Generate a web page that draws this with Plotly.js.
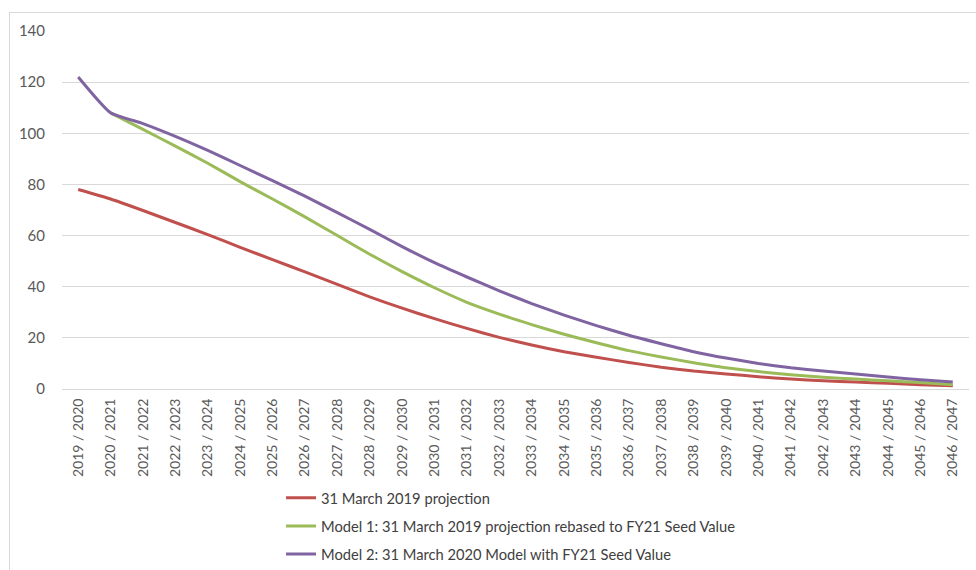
<!DOCTYPE html>
<html>
<head>
<meta charset="utf-8">
<script src="https://cdn.plot.ly/plotly-3.0.1.min.js"></script>
<style>
html,body{margin:0;padding:0;background:#fff;}
#frame{position:absolute;left:9px;top:12px;width:1000px;height:600px;border:1px solid #d9d9d9;}
#chart{position:absolute;left:0;top:0;width:976px;height:570px;}
</style>
</head>
<body>
<div id="frame"></div>
<div id="chart"></div>
<script>
const years = ["2019 / 2020","2020 / 2021","2021 / 2022","2022 / 2023","2023 / 2024","2024 / 2025","2025 / 2026","2026 / 2027","2027 / 2028","2028 / 2029","2029 / 2030","2030 / 2031","2031 / 2032","2032 / 2033","2033 / 2034","2034 / 2035","2035 / 2036","2036 / 2037","2037 / 2038","2038 / 2039","2039 / 2040","2040 / 2041","2041 / 2042","2042 / 2043","2043 / 2044","2044 / 2045","2045 / 2046","2046 / 2047"];
const projection2019 = [78,74.3,69.8,65.1,60.4,55.4,50.6,45.8,40.9,36.0,31.6,27.5,23.7,20.2,17.2,14.6,12.4,10.4,8.5,7.0,5.9,4.8,3.9,3.2,2.7,2.2,1.7,1.3];
const model1 = [null,108,101.5,95,88.3,81.1,74.3,67.3,60.0,52.7,45.9,39.6,33.9,29.3,25.2,21.4,18.1,15.0,12.5,10.3,8.3,6.8,5.6,4.6,3.9,3.2,2.5,1.7];
const model2 = [122,108,103.8,98.8,93.3,87.4,81.5,75.4,69,62.4,55.7,49.4,43.8,38.4,33.4,28.9,24.8,21.0,17.7,14.6,12.1,10.0,8.3,7.0,5.9,4.7,3.6,2.7];
const seriesNames = ["31 March 2019 projection","Model 1: 31 March 2019 projection rebased to FY21 Seed Value","Model 2: 31 March 2020 Model with FY21 Seed Value"];
const colors = ["#C0504D","#9BBB59","#8064A2"];
const values = [projection2019, model1, model2];

const traces = values.map((v,i)=>({
  x: years, y: v, name: seriesNames[i], type:'scatter', mode:'lines',
  legendgroup: 'g'+i,
  line:{color:colors[i], width:3, shape:'spline', smoothing:0.5},
  connectgaps:false
}));

const layout = {
  width:976, height:570,
  paper_bgcolor:'rgba(0,0,0,0)', plot_bgcolor:'rgba(0,0,0,0)',
  margin:{l:62, r:7, t:31, b:181, autoexpand:false},
  font:{family:'Lato, "Noto Sans", sans-serif', size:15, color:'#595959'},
  showlegend:true,
  legend:{x:0.2415, xanchor:'left', y:-0.259, yanchor:'top', orientation:'v',
    traceorder:'grouped', tracegroupgap:6,
    font:{size:14.7, color:'#404040'}, bgcolor:'rgba(0,0,0,0)'},
  xaxis:{type:'category', range:[-0.5,27.5], tickangle:-90, showgrid:false,
    showline:true, linecolor:'#d9d9d9', linewidth:1,
    ticks:'outside', ticklen:3, tickcolor:'rgba(0,0,0,0)',
    tickfont:{size:14, color:'#595959'}, zeroline:false, fixedrange:true},
  yaxis:{range:[0,140], dtick:20, tick0:0, showgrid:true, gridcolor:'#d9d9d9', gridwidth:1,
    zeroline:false, showline:false, ticks:'outside', ticklen:13, tickcolor:'rgba(0,0,0,0)',
    tickfont:{size:15, color:'#595959'}, fixedrange:true}
};
Plotly.newPlot('chart', traces, layout, {displayModeBar:false, staticPlot:true});
</script>
</body>
</html>
